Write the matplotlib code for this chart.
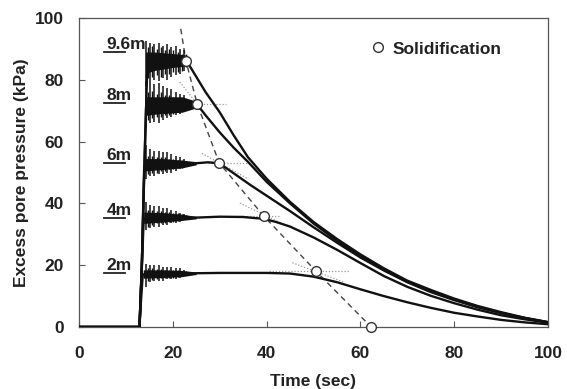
import matplotlib
matplotlib.use("Agg")
import matplotlib.pyplot as plt
from matplotlib.lines import Line2D

plt.rcParams['font.family'] = ['Liberation Sans', 'DejaVu Sans']
plt.rcParams['font.weight'] = 'bold'

# ---------------- data ----------------
depth_labels = ["9.6m", "8m", "6m", "4m", "2m"]
label_level = [89.0, 72.5, 53.1, 35.3, 17.5]      # underline level of each depth label

# mean traces (time s, excess pore pressure kPa)
t_96 = [0, 12.9, 13.4, 14.0, 14.6, 18, 23, 25, 27, 30, 33, 36, 40, 45, 50, 55, 60, 65, 70, 75, 80, 85, 90, 95, 100]
u_96 = [0, 0, 20, 55, 86, 86, 86, 81, 76, 69.5, 62, 55, 48, 40.5, 34, 28.5, 23.5, 19, 15, 12, 9.2, 6.8, 4.8, 3, 1.6]
t_8 = [0, 12.9, 13.4, 14.0, 14.3, 20, 25.2, 27, 30, 33, 36, 40, 45, 50, 55, 60, 65, 70, 75, 80, 85, 90, 95, 100]
u_8 = [0, 0, 20, 55, 71, 71.5, 72, 68.5, 63, 58, 53.5, 47, 40, 33.5, 28, 23, 18.5, 14.6, 11.6, 8.9, 6.5, 4.6, 2.9, 1.5]
t_6 = [0, 12.9, 13.4, 13.9, 18, 22, 25, 27.5, 29.9, 32, 36.5, 40, 45, 50, 55, 60, 65, 70, 75, 80, 85, 90, 95, 100]
u_6 = [0, 0, 20, 52, 52.5, 52.8, 53, 53.3, 53, 50.8, 46, 42.5, 37.5, 32.3, 27.3, 22.5, 18.3, 14.5, 11.3, 8.7, 6.4, 4.5, 2.9, 1.5]
t_4 = [0, 12.9, 13.3, 13.8, 18, 22, 25, 30, 35, 39.4, 42, 45, 50, 55, 60, 65, 70, 75, 80, 85, 90, 95, 100]
u_4 = [0, 0, 15, 35, 35.3, 35.4, 35.4, 35.7, 35.6, 35, 34, 32.5, 29, 25, 20.7, 16.5, 13, 10.1, 7.7, 5.6, 3.8, 2.5, 1.4]
t_2 = [0, 12.9, 13.2, 13.6, 18, 22, 25, 30, 40, 45, 50, 55, 60, 65, 70, 75, 80, 85, 90, 95, 100]
u_2 = [0, 0, 8, 17, 17.2, 17.3, 17.4, 17.5, 17.5, 17.3, 16.3, 14.5, 12.2, 10, 8, 6.2, 4.6, 3.4, 2.3, 1.5, 0.9]

# cyclic-loading spikes: major (about once a second) and minor ones in between
spike_t = [14.3, 15.2, 16.1, 17.0, 17.9, 18.8, 19.7, 20.6, 21.5, 22.4]
hi_96 = [92.5, 92, 91.5, 92, 91, 91.5, 90.5, 91, 90, 89.5]
lo_96 = [78, 79, 80, 79.5, 80.5, 80, 81, 81.5, 82, 83]
hi_8 = [79.5, 79, 78.5, 79, 78, 77.5, 77, 76, 75.5, 75]
lo_8 = [64.5, 66, 66.5, 66, 67, 67.5, 68, 68.5, 69, 69.5]
hi_6 = [59, 57.5, 57, 57, 56.5, 56.5, 56, 55.5, 55, 54.5]
lo_6 = [48, 49, 49, 49.5, 49.5, 50, 50, 50.5, 51, 51.5]
hi_4 = [40.5, 39.5, 39, 39, 38.5, 38.5, 38, 37.5, 37, 36.5]
lo_4 = [31.5, 32, 32.5, 32.5, 33, 33, 33.5, 33.5, 34, 34.5]
hi_2 = [20.5, 20, 20, 20, 19.5, 19.5, 19.5, 19, 19, 18.5]
lo_2 = [13, 14.5, 15, 15, 15, 15.5, 15.5, 15.5, 16, 16.5]

minor_t = [14.75, 15.65, 16.55, 17.45, 18.35, 19.25, 20.15, 21.05, 21.95, 22.85]
mhi_96 = [90.5, 91, 90, 90.5, 89.5, 90, 89.5, 89, 88.5, 88.5]
mlo_96 = [80.5, 81, 81.5, 81, 82, 82, 82.5, 82.5, 83, 84]
mhi_8 = [76, 76.5, 75.5, 76, 75, 75, 74.5, 74, 74, 73.5]
mlo_8 = [67, 67.5, 68, 68, 68.5, 68.5, 69, 69.5, 70, 70.5]
mhi_6 = [55.5, 55.5, 55, 55, 55, 54.5, 54.5, 54, 54, 53.8]
mlo_6 = [49.5, 50, 50, 50.5, 50.5, 51, 51, 51.5, 51.5, 52]
mhi_4 = [38, 38, 37.5, 37.5, 37.3, 37.2, 37, 36.8, 36.5, 36.2]
mlo_4 = [32.5, 33, 33.5, 33.5, 33.8, 34, 34, 34.3, 34.5, 34.8]
mhi_2 = [19, 19, 18.8, 18.8, 18.6, 18.6, 18.5, 18.3, 18.2, 18]
mlo_2 = [15, 15.3, 15.5, 15.7, 15.8, 16, 16, 16.2, 16.4, 16.7]

# dense core of the cyclic band
core_t_96 = [14.2, 16, 20, 23]; core_lo_96 = [82, 83, 84, 84.5]; core_hi_96 = [89, 89, 88.5, 88]
core_t_8 = [14.2, 17, 22, 25.2]; core_lo_8 = [68.5, 69, 69.5, 71]; core_hi_8 = [74.5, 74.5, 74.5, 73]
core_t_6 = [14.0, 18, 22, 25]; core_lo_6 = [50.5, 51, 51.5, 52.5]; core_hi_6 = [54.5, 54.5, 54, 53.5]
core_t_4 = [13.8, 18, 22, 25]; core_lo_4 = [33.5, 34, 34.5, 35]; core_hi_4 = [37.2, 37, 36.5, 35.8]
core_t_2 = [13.7, 18, 22, 25]; core_lo_2 = [15.8, 16, 16.3, 17]; core_hi_2 = [18.5, 18.5, 18.3, 17.8]

# solidification points and trend line
solid_t = [22.8, 25.2, 29.9, 39.4, 50.5, 62.3]
solid_u = [86.1, 72.2, 53.1, 35.9, 18.1, 0.0]
trend_t = [21.7] + solid_t
trend_u = [96.5] + solid_u

# construction (tangent) lines: x0, y0, x1, y1
tan_x0 = [25.2, 21.5, 27.5, 26.2, 33.0, 34.3, 40.5, 45.5]
tan_y0 = [72.2, 79.3, 53.1, 56.2, 35.9, 40.1, 18.1, 20.8]
tan_x1 = [31.3, 25.2, 36.0, 36.0, 43.0, 43.0, 57.5, 56.5]
tan_y1 = [72.2, 72.2, 53.1, 48.0, 35.9, 33.7, 18.1, 14.5]

# ---------------- figure ----------------
fig = plt.figure(figsize=(5.67, 3.89), dpi=100)
ax = fig.add_axes([0.1393, 0.1594, 0.8272, 0.7943])

traces = [(t_96, u_96), (t_8, u_8), (t_6, u_6), (t_4, u_4), (t_2, u_2)]
spikes = [(hi_96, lo_96), (hi_8, lo_8), (hi_6, lo_6), (hi_4, lo_4), (hi_2, lo_2)]
minors = [(mhi_96, mlo_96), (mhi_8, mlo_8), (mhi_6, mlo_6), (mhi_4, mlo_4), (mhi_2, mlo_2)]
cores = [(core_t_96, core_lo_96, core_hi_96), (core_t_8, core_lo_8, core_hi_8),
         (core_t_6, core_lo_6, core_hi_6), (core_t_4, core_lo_4, core_hi_4),
         (core_t_2, core_lo_2, core_hi_2)]

# construction lines
for x0, y0, x1, y1 in zip(tan_x0, tan_y0, tan_x1, tan_y1):
    ax.plot([x0, x1], [y0, y1], color='#9a9a9a', lw=0.9, ls=(0, (1, 1.5)), zorder=2)

ax.plot(trend_t, trend_u, color='#444444', lw=1.0, ls=(0, (4, 3)), zorder=2)

for (t, u), (hi, lo), (mhi, mlo), (ct, clo, chi) in zip(traces, spikes, minors, cores):
    ax.plot(t, u, color='#111111', lw=1.7, zorder=3, solid_joinstyle='round')
    ax.fill_between(ct, clo, chi, color='#111111', lw=0, zorder=3)
    ax.vlines(spike_t, lo, hi, color='#111111', lw=1.1, zorder=3)
    ax.vlines(minor_t, mlo, mhi, color='#111111', lw=1.0, zorder=3)

ax.plot(solid_t, solid_u, ls='none', marker='o', ms=7, mfc='white',
        mec='#333333', mew=1.0, zorder=5, clip_on=False)

# depth labels with underline
for lab, lv in zip(depth_labels, label_level):
    ax.text(5.9, lv + 1.0, lab, fontsize=12.5, fontweight='bold', color='#222222',
            ha='left', va='baseline')
    ax.plot([5.4, 9.8], [lv, lv], color='#222222', lw=1.3)

ax.set_xlim(0, 100)
ax.set_ylim(0, 100)
ax.set_xticks([0, 20, 40, 60, 80, 100])
ax.set_yticks([0, 20, 40, 60, 80, 100])
ax.tick_params(direction='in', length=4, width=0.8, color='#555555',
               labelsize=12.5, labelcolor='#222222')
ax.tick_params(axis='x', pad=14)
ax.tick_params(axis='y', pad=11)
for lab in ax.get_xticklabels() + ax.get_yticklabels():
    lab.set_fontweight('bold')
for s in ax.spines.values():
    s.set_color('#555555')
    s.set_linewidth(0.9)

ax.set_xlabel('Time (sec)', fontsize=12.5, fontweight='bold', color='#222222', labelpad=9)
ax.set_ylabel('Excess pore pressure (kPa)', fontsize=12.5, fontweight='bold', color='#222222', labelpad=4)

leg = ax.legend(handles=[Line2D([], [], ls='none', marker='o', ms=7, mfc='white',
                                mec='#333333', mew=1.0)],
                labels=['Solidification'], loc='upper left', bbox_to_anchor=(0.59, 0.975),
                frameon=False, handlelength=0.8, handletextpad=0.4,
                prop={'size': 12.5, 'weight': 'bold'})
for txt in leg.get_texts():
    txt.set_color('#222222')

fig.savefig('out.png', dpi=100)
